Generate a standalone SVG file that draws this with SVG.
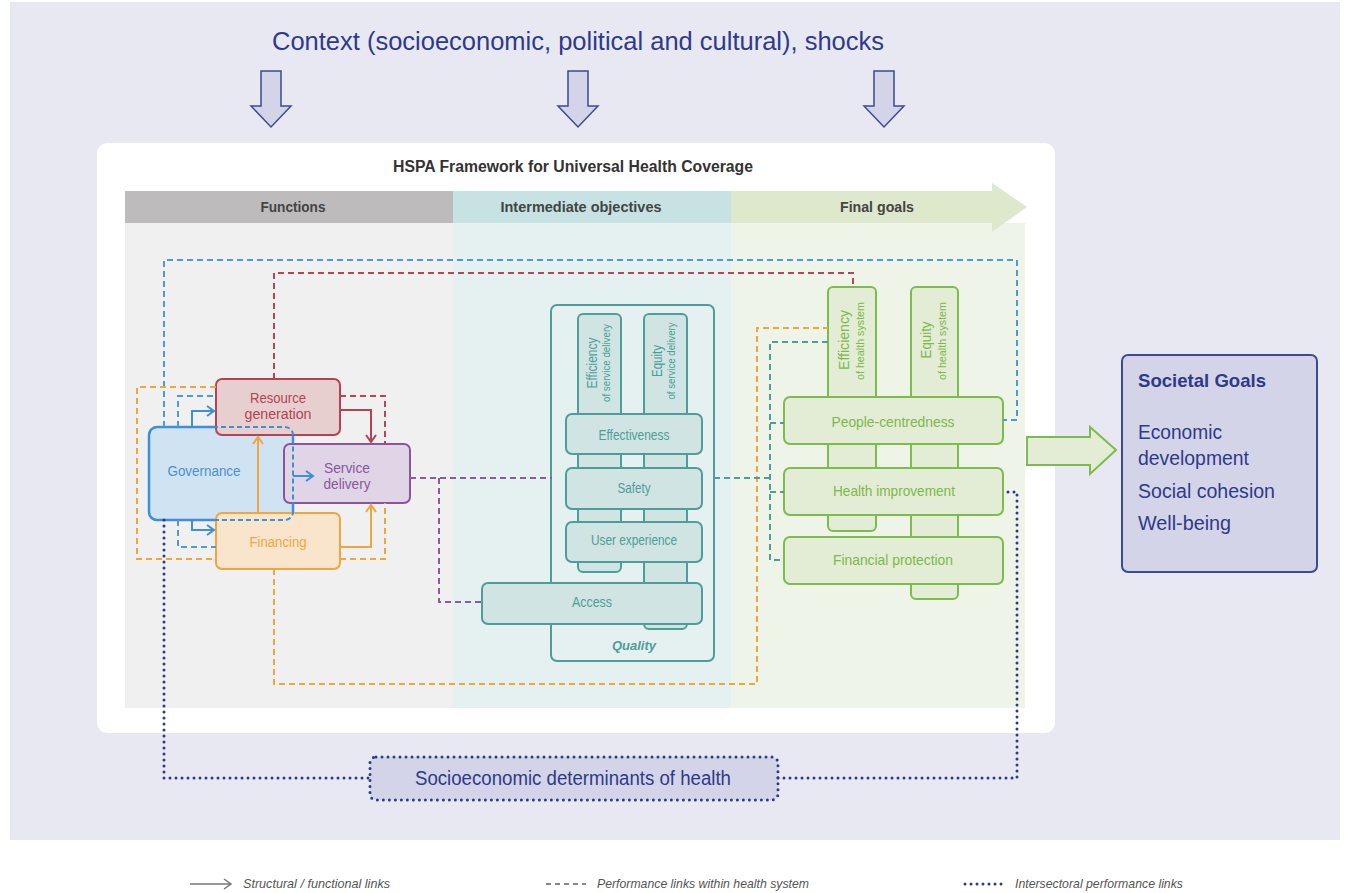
<svg xmlns="http://www.w3.org/2000/svg" width="1349" height="893" viewBox="0 0 1349 893">
<defs>
<style>
text{font-family:"Liberation Sans",Arial,sans-serif}
.dash{fill:none;stroke-width:2;stroke-dasharray:6 4}
.dot{fill:none;stroke:#2E3A8A;stroke-width:3;stroke-dasharray:0 6;stroke-linecap:round}
.solid{fill:none;stroke-width:2}
.box{stroke-width:2}
.teal{fill:#CFE4E3;stroke:#4E9D99;stroke-width:2}
.green{fill:#E3ECD5;stroke:#7DBB4E;stroke-width:2}
.tt{fill:#4E9D99;font-size:14px;text-anchor:middle}
.gt{fill:#7DB84A;font-size:15px;text-anchor:middle}
.nav{fill:#2E3A8A}
.down{fill:#D3D4E8;stroke:#3D4A8F;stroke-width:1.5}
.hdr{font-size:15px;font-weight:bold;fill:#444;text-anchor:middle}
.leg{font-size:13px;font-style:italic;fill:#555}
</style>
<marker id="mBlue" viewBox="-8 -6 10 12" refX="0" refY="0" markerWidth="10" markerHeight="12" markerUnits="userSpaceOnUse" orient="auto"><path d="M-7,-5 L0,0 L-7,5" fill="none" stroke="#3E8FD6" stroke-width="2"/></marker>
<marker id="mRed" viewBox="-8 -6 10 12" refX="0" refY="0" markerWidth="10" markerHeight="12" markerUnits="userSpaceOnUse" orient="auto"><path d="M-7,-5 L0,0 L-7,5" fill="none" stroke="#B24357" stroke-width="2"/></marker>
<marker id="mOr" viewBox="-8 -6 10 12" refX="0" refY="0" markerWidth="10" markerHeight="12" markerUnits="userSpaceOnUse" orient="auto"><path d="M-7,-5 L0,0 L-7,5" fill="none" stroke="#F0A53E" stroke-width="2"/></marker>
<marker id="mGray" viewBox="-8 -6 10 12" refX="0" refY="0" markerWidth="10" markerHeight="12" markerUnits="userSpaceOnUse" orient="auto"><path d="M-7,-5 L0,0 L-7,5" fill="none" stroke="#777" stroke-width="1.5"/></marker>
</defs>

<rect x="0" y="0" width="1349" height="893" fill="#FFFFFF"/>
<rect x="10" y="2" width="1330" height="838" fill="#E8E8F2"/>

<text x="578" y="50" font-size="25" class="nav" text-anchor="middle" textLength="612" lengthAdjust="spacingAndGlyphs">Context (socioeconomic, political and cultural), shocks</text>

<g id="context-arrows">
<polygon class="down" points="261,71 281,71 281,106 291,106 271,127 251,106 261,106"/>
<polygon class="down" points="568,71 588,71 588,106 598,106 578,127 558,106 568,106"/>
<polygon class="down" points="874,71 894,71 894,106 904,106 884,127 864,106 874,106"/>
</g>

<g id="panel">
<rect x="97" y="143" width="958" height="590" rx="10" fill="#FFFFFF"/>
<text x="573" y="172" font-size="16" font-weight="bold" fill="#333" text-anchor="middle" textLength="360" lengthAdjust="spacingAndGlyphs">HSPA Framework for Universal Health Coverage</text>
<rect x="125" y="223" width="328" height="485" fill="#F0F0F0"/>
<rect x="453" y="223" width="278" height="485" fill="#E5F0F0"/>
<rect x="731" y="223" width="294" height="485" fill="#EFF4E8"/>
<rect x="125" y="191" width="328" height="32" fill="#BDBBBB"/>
<rect x="453" y="191" width="278" height="32" fill="#C6E2E2"/>
<polygon points="731,191 992,191 992,183 1027,207 992,232 992,223 731,223" fill="#DDE8CC"/>
<text x="293" y="212" class="hdr" textLength="65" lengthAdjust="spacingAndGlyphs">Functions</text>
<text x="581" y="212" class="hdr" textLength="161" lengthAdjust="spacingAndGlyphs">Intermediate objectives</text>
<text x="877" y="212" class="hdr" textLength="74" lengthAdjust="spacingAndGlyphs">Final goals</text>
</g>

<g id="governance">
<rect x="149" y="427" width="144" height="93" rx="8" fill="#CFE3F3" stroke="#3E8FD6" stroke-width="2.5"/>
<text x="204" y="476" font-size="14" fill="#4A90D2" text-anchor="middle" textLength="73" lengthAdjust="spacingAndGlyphs">Governance</text>
</g>
<g id="resource-generation">
<rect x="216" y="379" width="124" height="56" rx="6" fill="#E8CFCF" stroke="#B24357" stroke-width="2"/>
<text x="278" y="403" font-size="14" fill="#B24357" text-anchor="middle" textLength="56" lengthAdjust="spacingAndGlyphs">Resource</text>
<text x="278" y="419" font-size="14" fill="#B24357" text-anchor="middle" textLength="67" lengthAdjust="spacingAndGlyphs">generation</text>
</g>
<g id="financing">
<rect x="216" y="513" width="124" height="56" rx="6" fill="#F9E5CB" stroke="#F0A53E" stroke-width="2"/>
<text x="278" y="547" font-size="14" fill="#F0A53E" text-anchor="middle" textLength="57" lengthAdjust="spacingAndGlyphs">Financing</text>
</g>
<g id="service-delivery">
<rect x="284" y="444" width="126" height="59" rx="6" fill="#E0D5E7" stroke="#8A559C" stroke-width="2"/>
<text x="347" y="473" font-size="14" fill="#8A559C" text-anchor="middle" textLength="46" lengthAdjust="spacingAndGlyphs">Service</text>
<text x="347" y="489" font-size="14" fill="#8A559C" text-anchor="middle" textLength="47" lengthAdjust="spacingAndGlyphs">delivery</text>
</g>
<rect x="149" y="427" width="144" height="93" rx="8" fill="none" stroke="#3E8FD6" stroke-width="2" stroke-dasharray="5 3"/>

<g id="quality">
<rect x="551" y="305" width="163" height="356" rx="6" fill="none" stroke="#4E9D99" stroke-width="2"/>
<text x="634" y="650" font-size="13" font-weight="bold" font-style="italic" fill="#4E9D99" text-anchor="middle" textLength="44" lengthAdjust="spacingAndGlyphs">Quality</text>
</g>
<g id="efficiency-service-delivery">
<rect x="578" y="314" width="43" height="258" rx="5" class="teal"/>
<text transform="translate(597,363) rotate(-90)" font-size="14" class="tt" textLength="51" lengthAdjust="spacingAndGlyphs">Efficiency</text>
<text transform="translate(610,363) rotate(-90)" font-size="10" fill="#4E9D99" text-anchor="middle" textLength="78" lengthAdjust="spacingAndGlyphs">of service delivery</text>
</g>
<g id="equity-service-delivery">
<rect x="644" y="314" width="43" height="315" rx="5" class="teal"/>
<text transform="translate(662,361) rotate(-90)" font-size="14" class="tt" textLength="32" lengthAdjust="spacingAndGlyphs">Equity</text>
<text transform="translate(675,361) rotate(-90)" font-size="10" fill="#4E9D99" text-anchor="middle" textLength="77" lengthAdjust="spacingAndGlyphs">of service delivery</text>
</g>
<g id="effectiveness">
<rect x="566" y="414" width="136" height="40" rx="6" class="teal"/>
<text x="634" y="440" class="tt" textLength="71" lengthAdjust="spacingAndGlyphs">Effectiveness</text>
</g>
<g id="safety">
<rect x="566" y="468" width="136" height="41" rx="6" class="teal"/>
<text x="634" y="493" class="tt" textLength="33" lengthAdjust="spacingAndGlyphs">Safety</text>
</g>
<g id="user-experience">
<rect x="566" y="522" width="136" height="40" rx="6" class="teal"/>
<text x="634" y="545" class="tt" textLength="86" lengthAdjust="spacingAndGlyphs">User experience</text>
</g>
<g id="access">
<rect x="482" y="583" width="220" height="41" rx="6" class="teal"/>
<text x="592" y="607" class="tt" textLength="40" lengthAdjust="spacingAndGlyphs">Access</text>
</g>

<g id="efficiency-health-system">
<rect x="828" y="287" width="48" height="244" rx="5" class="green"/>
<text transform="translate(849,340) rotate(-90)" font-size="16" class="gt" textLength="60" lengthAdjust="spacingAndGlyphs">Efficiency</text>
<text transform="translate(864,341) rotate(-90)" font-size="11" fill="#7DB84A" text-anchor="middle" textLength="78" lengthAdjust="spacingAndGlyphs">of health system</text>
</g>
<g id="equity-health-system">
<rect x="911" y="287" width="47" height="312" rx="5" class="green"/>
<text transform="translate(931,340) rotate(-90)" font-size="16" class="gt" textLength="37" lengthAdjust="spacingAndGlyphs">Equity</text>
<text transform="translate(946,341) rotate(-90)" font-size="11" fill="#7DB84A" text-anchor="middle" textLength="78" lengthAdjust="spacingAndGlyphs">of health system</text>
</g>
<g id="people-centredness">
<rect x="784" y="397" width="219" height="47" rx="6" class="green"/>
<text x="893" y="427" class="gt" textLength="123" lengthAdjust="spacingAndGlyphs">People-centredness</text>
</g>
<g id="health-improvement">
<rect x="784" y="468" width="219" height="47" rx="6" class="green"/>
<text x="894" y="496" class="gt" textLength="122" lengthAdjust="spacingAndGlyphs">Health improvement</text>
</g>
<g id="financial-protection">
<rect x="784" y="537" width="219" height="47" rx="6" class="green"/>
<text x="893" y="565" class="gt" textLength="120" lengthAdjust="spacingAndGlyphs">Financial protection</text>
</g>

<g id="societal-goals">
<rect x="1122" y="355" width="195" height="217" rx="6" fill="#D3D4E8" stroke="#3D4A8F" stroke-width="2"/>
<text x="1138" y="387" font-size="19" font-weight="bold" class="nav" textLength="128" lengthAdjust="spacingAndGlyphs">Societal Goals</text>
<text x="1138" y="439" font-size="20" class="nav" textLength="84" lengthAdjust="spacingAndGlyphs">Economic</text>
<text x="1138" y="465" font-size="20" class="nav" textLength="111" lengthAdjust="spacingAndGlyphs">development</text>
<text x="1138" y="498" font-size="20" class="nav" textLength="137" lengthAdjust="spacingAndGlyphs">Social cohesion</text>
<text x="1138" y="530" font-size="20" class="nav" textLength="93" lengthAdjust="spacingAndGlyphs">Well-being</text>
</g>

<g id="socioeconomic-determinants">
<rect x="370" y="757" width="408" height="43" rx="6" fill="#D3D4E8" class="dot" style="fill:#D3D4E8"/>
<text x="573" y="785" font-size="20" class="nav" text-anchor="middle" textLength="316" lengthAdjust="spacingAndGlyphs">Socioeconomic determinants of health</text>
</g>

<g id="connectors">
<path class="dash" stroke="#4A9BD8" d="M164,427 V260 H1017 V420 H1003 M178,427 V396 H216 M178,520 V547 H216"/>
<path class="dash" stroke="#B5465A" d="M274,379 V273 H853 V287 M340,396 H385 V444"/>
<path class="dash" stroke="#F2A53A" d="M216,387 H137 V559 H216 M340,559 H385 V503 M274,569 V684 H757 V328 H828"/>
<path class="dash" stroke="#8C5A9E" d="M410,478 H552 M439,478 V602 H482"/>
<path class="dash" stroke="#4E9D99" d="M714,478 H770 M828,342 H770 V560 H784 M770,423 H784 M770,492 H784"/>
<path class="dot" d="M164,520 V778 H370 M778,778 H1017 V492 H1003"/>
<path class="solid" stroke="#3E8FD6" marker-end="url(#mBlue)" d="M192,427 V411 H214"/>
<path class="solid" stroke="#3E8FD6" marker-end="url(#mBlue)" d="M192,520 V530 H214"/>
<path class="solid" stroke="#3E8FD6" marker-end="url(#mBlue)" d="M293,476 H313"/>
<path class="solid" stroke="#B24357" marker-end="url(#mRed)" d="M340,410 H371 V442"/>
<path class="solid" stroke="#F0A53E" marker-end="url(#mOr)" d="M258,513 V437"/>
<path class="solid" stroke="#F0A53E" marker-end="url(#mOr)" d="M340,547 H371 V505"/>
<polygon points="1027,437 1090,437 1090,427 1116,450 1090,474 1090,465 1027,465" fill="#E3ECD5" stroke="#7DBB4E" stroke-width="2"/>
</g>

<g id="legend">
<path d="M190,884 H231" stroke="#777" stroke-width="1.5" fill="none" marker-end="url(#mGray)"/>
<text x="243" y="888" class="leg" textLength="147" lengthAdjust="spacingAndGlyphs">Structural / functional links</text>
<path d="M546,884 H586" stroke="#888" stroke-width="2" stroke-dasharray="5 4" fill="none"/>
<text x="597" y="888" class="leg" textLength="212" lengthAdjust="spacingAndGlyphs">Performance links within health system</text>
<path d="M965,884 H1003" class="dot"/>
<text x="1015" y="888" class="leg" textLength="168" lengthAdjust="spacingAndGlyphs">Intersectoral performance links</text>
</g>
</svg>
